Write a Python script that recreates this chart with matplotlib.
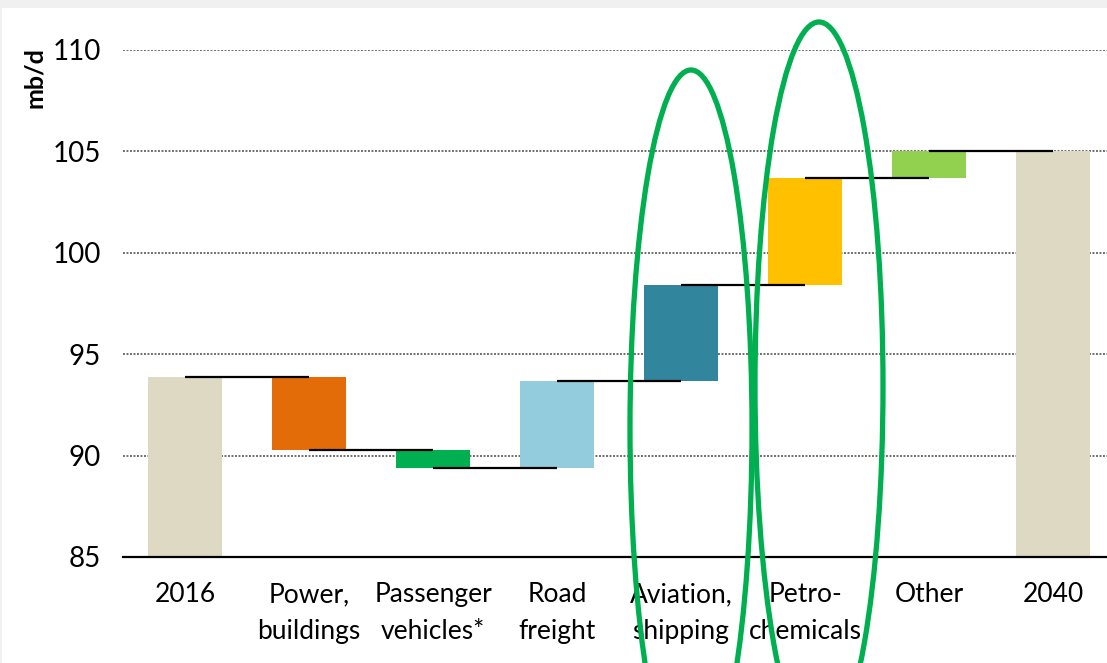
import matplotlib.pyplot as plt
from matplotlib.patches import Ellipse, Rectangle

plt.rcParams['font.family'] = ['Lato', 'DejaVu Sans']

categories = ['2016', 'Power,\nbuildings', 'Passenger\nvehicles*', 'Road\nfreight',
              'Aviation,\nshipping', 'Petro-\nchemicals', 'Other', '2040']
start_value = 93.9
changes = [-3.6, -0.9, 4.3, 4.7, 5.3, 1.3]
end_value = 105.0
colors = ['#DDD9C3', '#E36C09', '#00B050', '#93CDDD', '#31859C', '#FFC000', '#92D050', '#DDD9C3']

fig = plt.figure(figsize=(11.07, 6.63), dpi=100, facecolor='#f0f0f0')
fig.patches.append(Rectangle((2 / 1107, 0), 1, 1 - 8 / 663, transform=fig.transFigure,
                             facecolor='white', edgecolor='none', zorder=-1))
ax = fig.add_axes([123 / 1107, 106 / 663, 1 - 123 / 1107, (557 - 50) / 663])
ax.set_facecolor('none')

BASE = 85
W = 0.6

# totals and steps
levels = [start_value]
for c in changes:
    levels.append(levels[-1] + c)

ax.bar(0, start_value - BASE, bottom=BASE, width=W, color=colors[0], zorder=2)
for i, c in enumerate(changes):
    lo = min(levels[i], levels[i + 1])
    ax.bar(i + 1, abs(c), bottom=lo, width=W, color=colors[i + 1], zorder=2)
ax.bar(7, end_value - BASE, bottom=BASE, width=W, color=colors[7], zorder=2)

# connectors
for i in range(len(levels)):
    ax.plot([i, i + 1], [levels[i], levels[i]], color='black', lw=1.6, zorder=3,
            solid_capstyle='butt')

for y in [90, 95, 100, 105, 110]:
    ax.axhline(y, color='#6f6f6f', lw=1.4, ls=(0, (1.0, 0.8)), zorder=1)

ax.set_xlim(-0.5, 7.435)
ax.set_ylim(85, 110)
ax.set_yticks([85, 90, 95, 100, 105, 110])
ax.set_xticks(range(len(categories)))
ax.set_xticklabels(categories, fontsize=19, linespacing=1.6)
ax.tick_params(axis='y', labelsize=20, length=0, pad=16)
ax.tick_params(axis='x', length=0, pad=18)
for s in ['top', 'right', 'left']:
    ax.spines[s].set_visible(False)
ax.spines['bottom'].set_linewidth(1.6)
ax.spines['bottom'].set_zorder(4)

fig.text(35 / 1107, 1 - 78 / 663, 'mb/d', rotation=90, fontsize=18, fontweight='bold',
         ha='center', va='center')

# highlight ellipses
for cx, cy, w, h in [(691, 428, 122, 716), (819, 386, 128, 728)]:
    fig.patches.append(Ellipse((cx / 1107, 1 - cy / 663), w / 1107, h / 663,
                               transform=fig.transFigure, fill=False,
                               edgecolor='#00B050', lw=3.8, zorder=10))

fig.savefig('out.png', dpi=100, facecolor=fig.get_facecolor())
